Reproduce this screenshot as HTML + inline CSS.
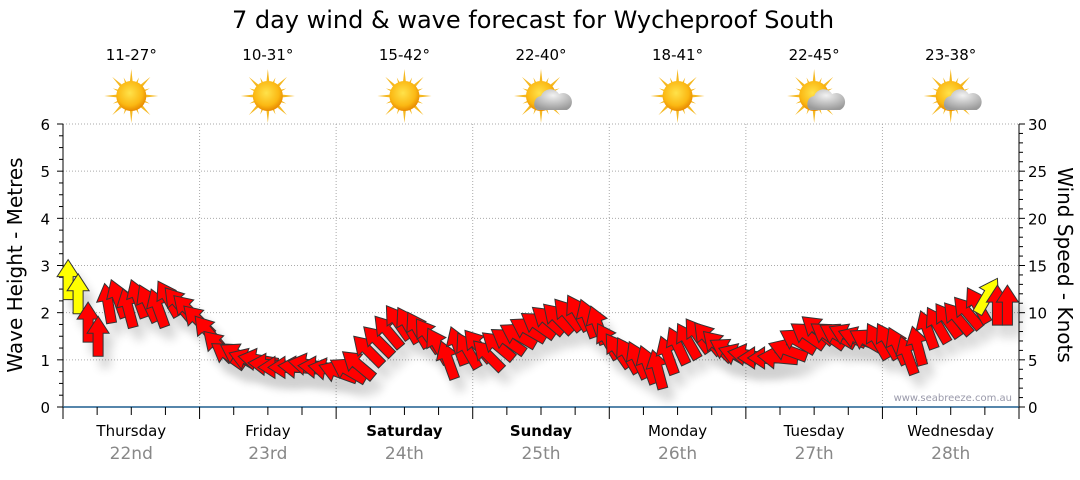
<!DOCTYPE html>
<html><head><meta charset="utf-8">
<style>
body{margin:0;background:#fff;font-family:"Liberation Sans","DejaVu Sans",sans-serif;}
svg text{font-family:"DejaVu Sans","Liberation Sans",sans-serif;}
</style></head>
<body>
<svg id="chart" width="1080" height="475" xmlns="http://www.w3.org/2000/svg">
<defs>
<radialGradient id="sunG" cx="45%" cy="40%" r="60%"><stop offset="0" stop-color="#ffe24a"/><stop offset="0.7" stop-color="#fbb813"/><stop offset="1" stop-color="#e88a00"/></radialGradient>
<radialGradient id="cloudG" cx="50%" cy="30%" r="70%"><stop offset="0" stop-color="#f2f2f2"/><stop offset="1" stop-color="#9a9a9a"/></radialGradient>
<filter id="sh" x="-50%" y="-50%" width="200%" height="200%"><feGaussianBlur stdDeviation="5"/></filter>
</defs>
<text x="533" y="28" font-size="24" text-anchor="middle" fill="#000">7 day wind &amp; wave forecast for Wycheproof South</text>
<g id="grid"></g>
<g id="axes"></g>
<g id="icons"></g>
<g id="shadows" opacity="0.18"></g>
<g id="arrows"></g>
<text x="1012" y="401" font-size="10" text-anchor="end" fill="#99a">www.seabreeze.com.au</text>
<text transform="translate(22,265) rotate(-90)" font-size="20" text-anchor="middle">Wave Height - Metres</text>
<text transform="translate(1058,265) rotate(90)" font-size="20" text-anchor="middle">Wind Speed - Knots</text>
</svg>
<script>
const days=["Thursday","Friday","Saturday","Sunday","Monday","Tuesday","Wednesday"];
const dates=["22nd","23rd","24th","25th","26th","27th","28th"];
const temps=["11-27°","10-31°","15-42°","22-40°","18-41°","22-45°","23-38°"];
const cloudy=[0,0,0,1,0,1,1];
const waveTicks=[0,1,2,3,4,5,6];
const windTicks=[0,5,10,15,20,25,30];
const windSpeed=[13.5,12,9,7.5,11,11.5,10.5,11.5,11,10.5,11.5,11,10.3,9.2,
8,6.5,5.5,5.5,5,5,4.5,4.2,4.2,4.2,4.5,4.2,4,
3.7,3.9,4.5,6,7,8,9,8.7,8.2,7.6,6.5,5,6.5,6,
6.5,5.5,6.5,7,7.6,8.2,8.7,9.2,9.4,9.8,10,9.4,8.7,7,
6,5.5,5,4.5,4,5.5,6.5,7,7.6,7.3,6.5,6,5.5,
5.5,5.2,5.2,5.2,6,7,7.6,8.2,7.6,7.6,7.6,7.3,7,7,
7,6.5,5.5,6.5,8.2,8.7,9.2,9.4,10,10.8,11.8,10.8,10.8];
const windDir=[0,0,0,0,-10,-20,-15,-20,-25,-20,-30,-40,-45,-45,
-40,-45,-55,-60,-70,-80,-85,-90,-90,-85,-80,-85,-80,
-70,-60,-50,-45,-45,-40,-35,-30,-30,-35,-30,-20,-20,-30,
-40,-45,-50,-55,-60,-60,-55,-50,-45,-40,-30,-20,-20,-30,
-35,-30,-25,-20,-15,-20,-25,-30,-35,-40,-45,-60,-70,
-80,-90,-90,-85,-70,-60,-55,-50,-55,-60,-65,-70,-60,-30,
-30,-25,-20,-15,-20,-30,-35,-40,-40,-30,30,0,0];
const yellow=[1,1,0,0,0,0,0,0,0,0,0,0,0,0,0,0,0,0,0,0,0,0,0,0,0,0,0,0,0,0,0,0,0,0,0,0,0,0,0,0,0,0,0,0,0,0,0,0,0,0,0,0,0,0,0,0,0,0,0,0,0,0,0,0,0,0,0,0,0,0,0,0,0,0,0,0,0,0,0,0,0,0,0,0,0,0,0,0,0,0,0,0,1,0,0];
const NS="http://www.w3.org/2000/svg";
const X0=63,X1=1019,Y0=407,Y1=124,DW=(X1-X0)/7;
const xHour=h=>X0+h/168*(X1-X0);
const yWave=v=>Y0-v/6*(Y0-Y1);
const yWind=v=>Y0-v/30*(Y0-Y1);
function mk(tag,attrs,parent,txt){const e=document.createElementNS(NS,tag);for(const k in attrs)e.setAttribute(k,attrs[k]);if(txt!=null)e.textContent=txt;document.getElementById(parent).appendChild(e);return e;}
waveTicks.forEach(v=>{if(v>0){const l=mk('line',{x1:X0,x2:X1,y1:yWave(v),y2:yWave(v),stroke:'#aaa','stroke-dasharray':'1,2'},'grid');

}});
for(let d=1;d<7;d++){const l=mk('line',{x1:X0+d*DW,x2:X0+d*DW,y1:Y1,y2:Y0,stroke:'#aaa','stroke-dasharray':'1,2'},'grid');

}
mk('line',{x1:X0,x2:X0,y1:Y1,y2:Y0+1,stroke:'#000'},'axes');
mk('line',{x1:X1,x2:X1,y1:Y1,y2:Y0+1,stroke:'#000'},'axes');
mk('line',{x1:X0,x2:X1,y1:Y0,y2:Y0,stroke:'#1f5f8f','stroke-width':1.5},'axes');
for(let i=0;i<=24;i++){const y=Y0-i*(Y0-Y1)/24;const w=i%4==0?6:4;
mk('line',{x1:X0-w,x2:X0,y1:y,y2:y,stroke:'#000'},'axes');}
for(let i=0;i<=30;i++){const y=yWind(i);const w=i%5==0?6:4;
mk('line',{x1:X1,x2:X1+w,y1:y,y2:y,stroke:'#000'},'axes');}
waveTicks.forEach(v=>{const t=mk('text',{x:50,y:yWave(v)+6,'font-size':15,'text-anchor':'end'},'axes',v);

});
windTicks.forEach(v=>{const t=mk('text',{x:1028,y:yWind(v)+6,'font-size':15},'axes',v);

});
for(let h=0;h<=168;h+=6){const x=xHour(h);mk('line',{x1:x,x2:x,y1:Y0,y2:Y0+(h%24==0?12:8),stroke:'#000'},'axes');}
days.forEach((d,i)=>{const cx=X0+(i+0.5)*DW;
const t=mk('text',{x:cx,y:436,'font-size':15,'text-anchor':'middle','font-weight':(i==2||i==3)?'bold':'normal'},'axes',d);


const t2=mk('text',{x:cx,y:459,'font-size':17,'text-anchor':'middle',fill:'#888'},'axes',dates[i]);


const t3=mk('text',{x:cx,y:60,'font-size':15,'text-anchor':'middle'},'icons',temps[i]);


const g=mk('g',{transform:`translate(${cx},96)`},'icons');


for(let k=0;k<16;k++){const a=k*22.5,len=k%2?20:27;
const p=document.createElementNS(NS,'polygon');p.setAttribute('points',`-3,0 3,0 0,${-len}`);p.setAttribute('fill','#f5b820');p.setAttribute('transform',`rotate(${a})`);g.appendChild(p);}
const c=document.createElementNS(NS,'circle');c.setAttribute('r',15);c.setAttribute('fill','url(#sunG)');g.appendChild(c);
if(cloudy[i]){const cl=document.createElementNS(NS,'path');cl.setAttribute('d','M-4,14 a8,8 0 0 1 4,-14 a10,10 0 0 1 18,-2 a8,8 0 0 1 8,16 z');cl.setAttribute('fill','url(#cloudG)');g.appendChild(cl);}
});
const arrowPts='0,-20 11,-3 5,-3 5,20 -5,20 -5,-3 -11,-3';
windSpeed.forEach((v,i)=>{const h=0.9+i*1.756;const x=xHour(h),y=yWind(v);
mk('polygon',{points:arrowPts,fill:'#000',filter:'url(#sh)',transform:`translate(${x+7},${y+12}) rotate(${windDir[i]})`},'shadows');
const a=mk('polygon',{points:arrowPts,fill:yellow[i]?'#ffff00':'#ff0000',stroke:'#333','stroke-width':1,transform:`translate(${x},${y}) rotate(${windDir[i]})`},'arrows');

});
</script>
</body></html>
